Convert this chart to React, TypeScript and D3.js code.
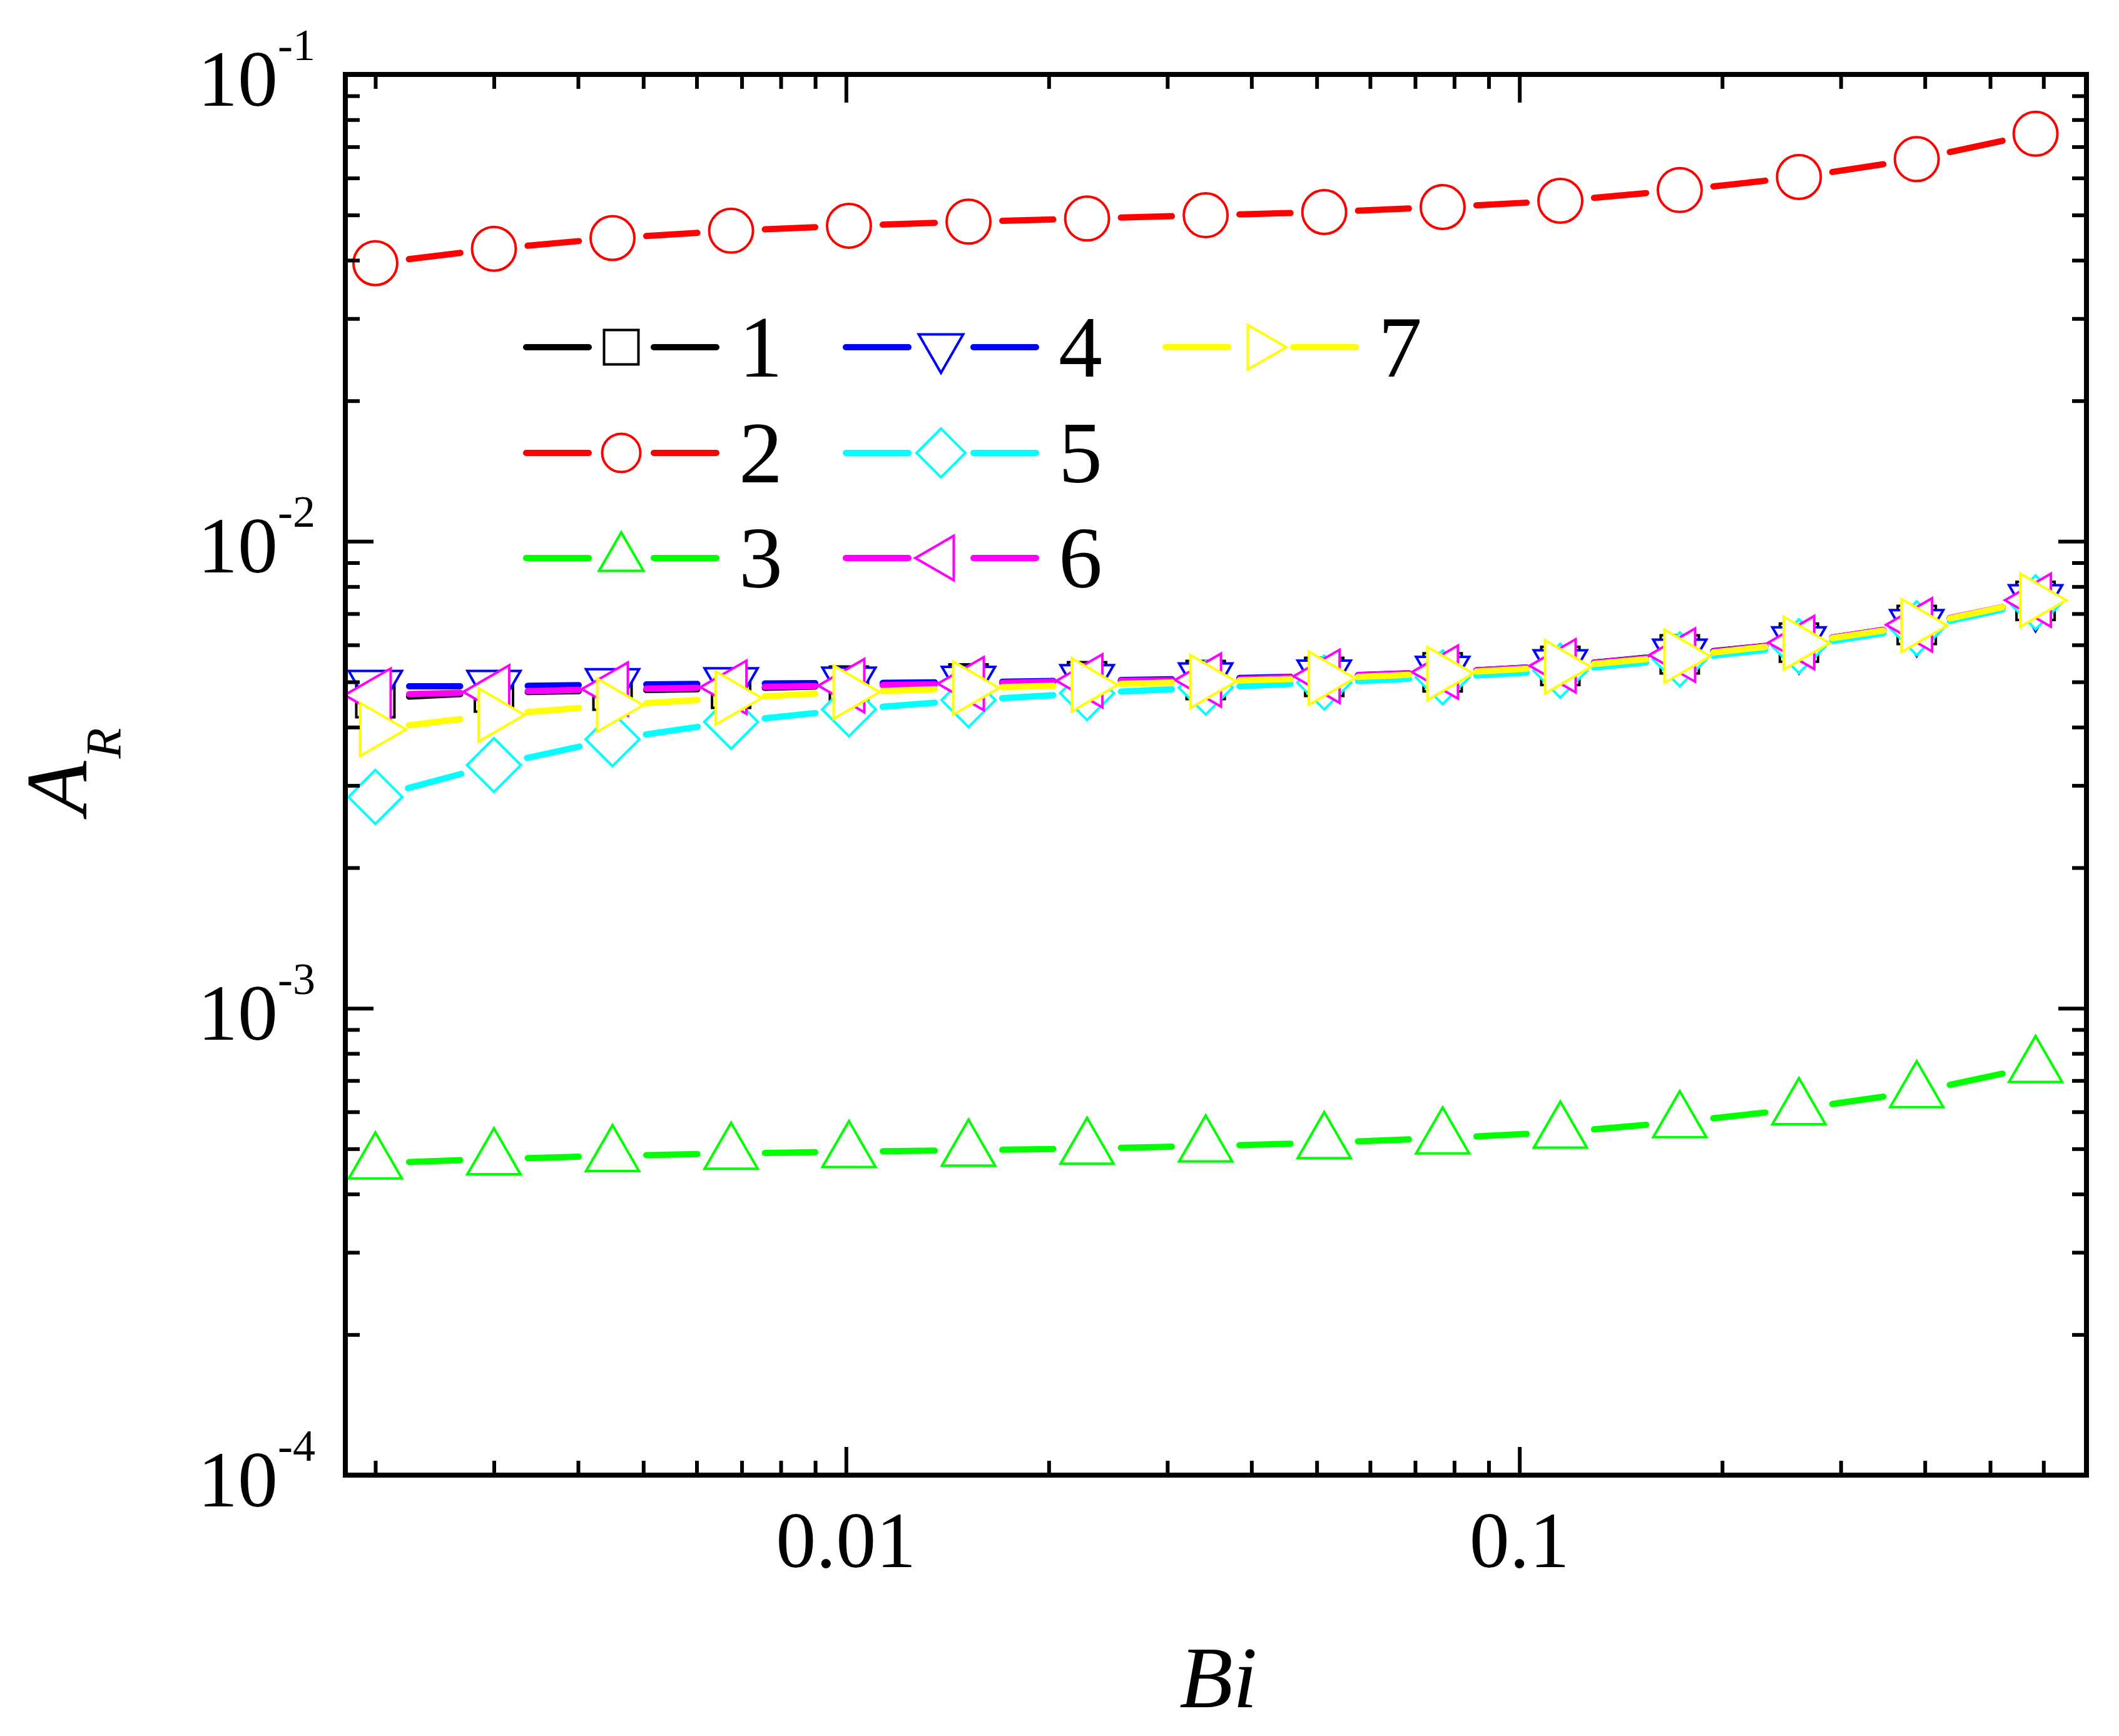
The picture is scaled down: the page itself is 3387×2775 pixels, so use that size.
import { useEffect, useRef } from "react"
import * as d3 from "d3"

// Bi values (x) shared by all curves
const bi = [0.002, 0.003, 0.0045, 0.00675, 0.0101, 0.0152, 0.0228, 0.0342, 0.0513, 0.0769, 0.115, 0.173, 0.26, 0.389, 0.584]

// A_R values per curve
const curve1 = [0.004614, 0.004744, 0.004789, 0.004834, 0.004908, 0.004963, 0.005015, 0.005045, 0.005124, 0.00524, 0.005409, 0.005725, 0.00607, 0.006619, 0.007454]
const curve2 = [0.03942, 0.04232, 0.04463, 0.04626, 0.04741, 0.04838, 0.04913, 0.04994, 0.05072, 0.05199, 0.05362, 0.05654, 0.06029, 0.06587, 0.07464]
const curve3 = [0.0004658, 0.0004755, 0.0004829, 0.0004887, 0.000493, 0.0004964, 0.0005008, 0.0005068, 0.0005152, 0.0005272, 0.0005424, 0.0005711, 0.0006087, 0.0006623, 0.0007499]
const curve4 = [0.004892, 0.004892, 0.004933, 0.004957, 0.004972, 0.004994, 0.005035, 0.005077, 0.005147, 0.005244, 0.005417, 0.005708, 0.00607, 0.006606, 0.007465]
const curve5 = [0.002835, 0.003317, 0.003767, 0.004104, 0.004365, 0.004571, 0.00473, 0.004859, 0.004984, 0.005113, 0.005284, 0.005587, 0.005961, 0.006517, 0.007402]
const curve6 = [0.004686, 0.004759, 0.004826, 0.00487, 0.004908, 0.004957, 0.005026, 0.005045, 0.00514, 0.005248, 0.005413, 0.005706, 0.00607, 0.006626, 0.007482]
const curve7 = [0.003955, 0.004249, 0.004458, 0.00462, 0.004755, 0.004851, 0.004927, 0.00501, 0.005093, 0.005212, 0.005384, 0.005675, 0.006053, 0.006603, 0.007482]

const seriesNames = ["1", "2", "3", "4", "5", "6", "7"]
const seriesValues = [curve1, curve2, curve3, curve4, curve5, curve6, curve7]
const seriesColors = ["#000000", "#ff0000", "#00ff00", "#0000ff", "#00ffff", "#ff00ff", "#ffff00"]
const seriesSymbols = ["square", "circle", "up", "down", "diamond", "left", "right"]

const xTickLabels = ["0.01", "0.1"]
const xMajor = [0.01, 0.1]
const yMajor = [1e-4, 1e-3, 1e-2, 1e-1]
const yTickExponents = ["-4", "-3", "-2", "-1"]

const FONT = "'Liberation Serif', 'Times New Roman', serif"

// marker outline centred on 0,0
function symbolPath(kind: string, s: number) {
  const r3 = Math.sqrt(3) / 2
  switch (kind) {
    case "square":
      return `M${-s},${-s}H${s}V${s}H${-s}Z`
    case "circle":
      return `M${-s},0A${s},${s} 0 1,0 ${s},0A${s},${s} 0 1,0 ${-s},0Z`
    case "diamond":
      return `M0,${-s}L${s},0L0,${s}L${-s},0Z`
    case "up":
      return `M0,${-s}L${s * r3},${s / 2}L${-s * r3},${s / 2}Z`
    case "down":
      return `M0,${s}L${s * r3},${-s / 2}L${-s * r3},${-s / 2}Z`
    case "left":
      return `M${-s},0L${s / 2},${-s * r3}L${s / 2},${s * r3}Z`
    default:
      return `M${s},0L${-s / 2},${-s * r3}L${-s / 2},${s * r3}Z`
  }
}

// plot symbol sizes, legend a bit smaller
const plotSize: Record<string, number> = { square: 30.5, circle: 35, diamond: 43, up: 49, down: 49, left: 49, right: 49 }
const legendSize: Record<string, number> = { square: 27.5, circle: 30.5, diamond: 39, up: 41, down: 41, left: 41, right: 41 }

export default function App() {
  const svgRef = useRef<SVGSVGElement>(null)

  useEffect(() => {
    if (!svgRef.current) return
    const svg = d3.select(svgRef.current)
    svg.selectAll("*").remove()

    const left = 552
    const right = 3335
    const top = 119
    const bottom = 2358

    const x = d3.scaleLog().domain([0.001805, 0.695]).range([left, right])
    const y = d3.scaleLog().domain([1e-4, 1e-1]).range([bottom, top])

    svg.append("rect").attr("width", 3387).attr("height", 2775).attr("fill", "white")

    // curves: gapped line segments, then hollow white markers
    const gap = 54
    seriesValues.forEach((vals, i) => {
      const color = seriesColors[i]
      const pts = vals.map((v, j) => [x(bi[j]), y(v)] as [number, number])
      const g = svg.append("g")
      const segs = d3.pairs(pts).map(([a, b]) => {
        const dx = b[0] - a[0]
        const dy = b[1] - a[1]
        const len = Math.hypot(dx, dy)
        const ux = dx / len
        const uy = dy / len
        return [a[0] + ux * gap, a[1] + uy * gap, b[0] - ux * gap, b[1] - uy * gap]
      })
      g.selectAll("line")
        .data(segs)
        .enter()
        .append("line")
        .attr("x1", (d) => d[0])
        .attr("y1", (d) => d[1])
        .attr("x2", (d) => d[2])
        .attr("y2", (d) => d[3])
        .attr("stroke", color)
        .attr("stroke-width", 10)
        .attr("stroke-linecap", "round")
      g.selectAll("path")
        .data(pts)
        .enter()
        .append("path")
        .attr("transform", (d) => `translate(${d[0]},${d[1]})`)
        .attr("d", symbolPath(seriesSymbols[i], plotSize[seriesSymbols[i]]))
        .attr("fill", "white")
        .attr("stroke", color)
        .attr("stroke-width", 4)
    })

    // legend, three columns
    const legendCols = [993, 1504, 2015]
    const legendRows = [555, 724, 892]
    const legend = svg.append("g")
    seriesNames.forEach((name, i) => {
      const cx = legendCols[Math.floor(i / 3)]
      const cy = legendRows[i % 3]
      const color = seriesColors[i]
      const item = legend.append("g")
      ;[
        [cx - 152, cx - 52],
        [cx + 52, cx + 152],
      ].forEach(([a, b]) => {
        item
          .append("line")
          .attr("x1", a)
          .attr("x2", b)
          .attr("y1", cy)
          .attr("y2", cy)
          .attr("stroke", color)
          .attr("stroke-width", 10)
          .attr("stroke-linecap", "round")
      })
      item
        .append("path")
        .attr("transform", `translate(${cx},${cy})`)
        .attr("d", symbolPath(seriesSymbols[i], legendSize[seriesSymbols[i]]))
        .attr("fill", "white")
        .attr("stroke", color)
        .attr("stroke-width", 4)
      item
        .append("text")
        .attr("x", cx + 188)
        .attr("y", cy + 47)
        .attr("font-family", FONT)
        .attr("font-size", 140)
        .attr("fill", "black")
        .text(name)
    })

    // inward ticks on all four sides
    const xMinor = x.ticks().filter((t) => !xMajor.some((m) => Math.abs(m - t) < 1e-12))
    const yMinor = y.ticks().filter((t) => !yMajor.some((m) => Math.abs(m - t) / m < 1e-6))
    const styleAxis = (sel: d3.Selection<SVGGElement, unknown, null, undefined>) => {
      sel.select(".domain").remove()
      sel.selectAll(".tick line").attr("stroke", "black").attr("stroke-width", 6)
      sel.selectAll(".tick text").remove()
    }
    const axes: [any, number, string][] = [
      [d3.axisBottom(x), bottom, "x"],
      [d3.axisTop(x), top, "x"],
      [d3.axisLeft(y), left, "y"],
      [d3.axisRight(y), right, "y"],
    ]
    axes.forEach(([axis, pos, dir]) => {
      const minor = dir === "x" ? xMinor : yMinor
      const major = dir === "x" ? xMajor : yMajor
      const tr = dir === "x" ? `translate(0,${pos})` : `translate(${pos},0)`
      svg.append("g").attr("transform", tr).call(axis.tickValues(minor).tickSize(-23).tickSizeOuter(0)).call(styleAxis)
      svg.append("g").attr("transform", tr).call(axis.tickValues(major).tickSize(-45).tickSizeOuter(0)).call(styleAxis)
    })

    svg
      .append("rect")
      .attr("x", left)
      .attr("y", top)
      .attr("width", right - left)
      .attr("height", bottom - top)
      .attr("fill", "none")
      .attr("stroke", "black")
      .attr("stroke-width", 8)

    // tick labels
    xMajor.forEach((v, i) => {
      svg
        .append("text")
        .attr("x", x(v))
        .attr("y", 2505)
        .attr("text-anchor", "middle")
        .attr("font-family", FONT)
        .attr("font-size", 128)
        .attr("fill", "black")
        .text(xTickLabels[i])
    })
    yMajor.forEach((v, i) => {
      const t = svg
        .append("text")
        .attr("x", 504)
        .attr("y", y(v) + 50)
        .attr("text-anchor", "end")
        .attr("font-family", FONT)
        .attr("font-size", 128)
        .attr("fill", "black")
      t.append("tspan").text("10")
      t.append("tspan").attr("dy", -73).attr("font-size", 72).text(yTickExponents[i])
    })

    // axis titles
    svg
      .append("text")
      .attr("x", (left + right) / 2 + 4)
      .attr("y", 2729)
      .attr("text-anchor", "middle")
      .attr("font-family", FONT)
      .attr("font-style", "italic")
      .attr("font-size", 140)
      .attr("fill", "black")
      .text("Bi")

    const yt = svg
      .append("text")
      .attr("transform", "translate(138,1302) rotate(-90)")
      .attr("font-family", FONT)
      .attr("font-style", "italic")
      .attr("font-size", 140)
      .attr("fill", "black")
    yt.append("tspan").text("A")
    yt.append("tspan").attr("dx", 4).attr("dy", 55).attr("font-size", 80).text("R")
  }, [])

  return (
    <div style={{ position: "absolute", left: 0, top: 0 }}>
      <svg ref={svgRef} width={3387} height={2775} style={{ display: "block" }}></svg>
    </div>
  )
}
